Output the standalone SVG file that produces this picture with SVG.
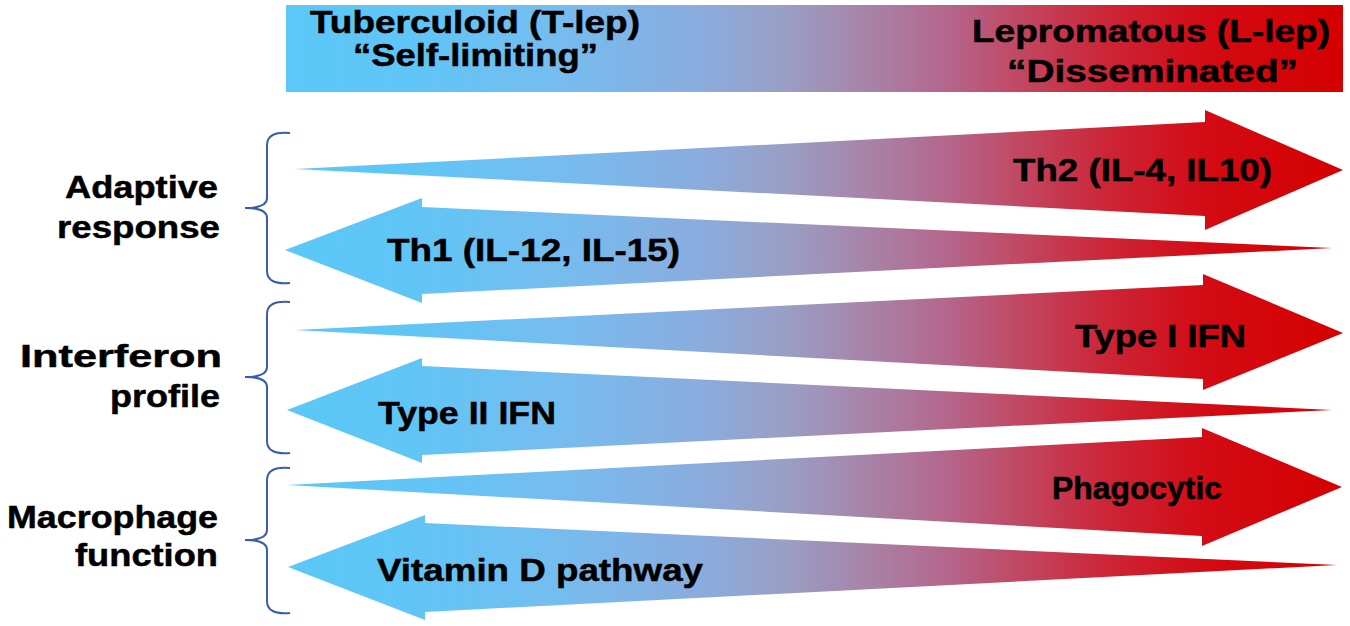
<svg xmlns="http://www.w3.org/2000/svg" width="1350" height="626" viewBox="0 0 1350 626">
<style>
.t{font-family:"Liberation Sans",Arial,Helvetica,sans-serif;font-weight:bold;font-size:32px;fill:#000;stroke:#000;stroke-width:0.5}
.br{fill:none;stroke:#3b5ca8;stroke-width:2}
.g{fill:url(#grad)}
</style>
<defs>
<linearGradient id="grad" gradientUnits="userSpaceOnUse" x1="286" y1="0" x2="1343" y2="0">
<stop offset="0" stop-color="#5ac8f8"/>
<stop offset="0.12" stop-color="#60c5f6"/>
<stop offset="0.26" stop-color="#76bcef"/>
<stop offset="0.39" stop-color="#8aacde"/>
<stop offset="0.47" stop-color="#999fc6"/>
<stop offset="0.55" stop-color="#a883a8"/>
<stop offset="0.63" stop-color="#b5648a"/>
<stop offset="0.7" stop-color="#c2455f"/>
<stop offset="0.78" stop-color="#cc2435"/>
<stop offset="0.87" stop-color="#d30b14"/>
<stop offset="1" stop-color="#d40000"/>
</linearGradient>
</defs>
<rect width="1350" height="626" fill="#fff"/>
<g id="banner">
<rect class="g" x="286" y="5" width="1057" height="87"/>
<text class="t" x="310" y="33" textLength="330" lengthAdjust="spacingAndGlyphs">Tuberculoid (T-lep)</text>
<text class="t" x="353" y="66" textLength="245" lengthAdjust="spacingAndGlyphs">“Self-limiting”</text>
<text class="t" x="972" y="42" textLength="358" lengthAdjust="spacingAndGlyphs">Lepromatous (L-lep)</text>
<text class="t" x="1007" y="82" textLength="291" lengthAdjust="spacingAndGlyphs">“Disseminated”</text>
</g>
<g id="adaptive">
<path class="br" d="M290,133 Q267,131 267,145 L267,198 Q267,208 245,208 Q267,208 267,218 L267,271 Q267,285 290,283"/>
<text class="t" x="65" y="198" textLength="153" lengthAdjust="spacingAndGlyphs">Adaptive</text>
<text class="t" x="57" y="238" textLength="163" lengthAdjust="spacingAndGlyphs">response</text>
</g>
<g id="th2">
<path class="g" d="M295,169 L1205,122 L1205,110 L1343,170 L1205,230 L1205,216 Z"/>
<text class="t" x="1013" y="181" textLength="259" lengthAdjust="spacingAndGlyphs">Th2 (IL-4, IL10)</text>
</g>
<g id="th1">
<path class="g" d="M285,250 L422,198 L422,207 L1332,248 L422,294 L422,303 Z"/>
<text class="t" x="387" y="261" textLength="293" lengthAdjust="spacingAndGlyphs">Th1 (IL-12, IL-15)</text>
</g>
<g id="interferon">
<path class="br" d="M290,302 Q267,300 267,314 L267,367 Q267,377 245,377 Q267,377 267,387 L267,441 Q267,455 290,453"/>
<text class="t" x="20" y="367" textLength="202" lengthAdjust="spacingAndGlyphs">Interferon</text>
<text class="t" x="110" y="407" textLength="110" lengthAdjust="spacingAndGlyphs">profile</text>
</g>
<g id="type1">
<path class="g" d="M295,330 L1203,285 L1203,274 L1343,333 L1203,390 L1203,379 Z"/>
<text class="t" x="1075" y="347" textLength="171" lengthAdjust="spacingAndGlyphs">Type I IFN</text>
</g>
<g id="type2">
<path class="g" d="M287,410 L422,358 L422,366 L1332,410 L422,455 L422,463 Z"/>
<text class="t" x="378" y="424" textLength="178" lengthAdjust="spacingAndGlyphs">Type II IFN</text>
</g>
<g id="macrophage">
<path class="br" d="M290,468 Q267,466 267,480 L267,530 Q267,540 245,540 Q267,540 267,550 L267,601 Q267,615 290,613"/>
<text class="t" x="7" y="528" textLength="211" lengthAdjust="spacingAndGlyphs">Macrophage</text>
<text class="t" x="75" y="566" textLength="143" lengthAdjust="spacingAndGlyphs">function</text>
</g>
<g id="phago">
<path class="g" d="M287,485 L1202,437 L1202,428 L1342,487 L1202,546 L1202,536 Z"/>
<text class="t" x="1052" y="499" textLength="170" lengthAdjust="spacingAndGlyphs">Phagocytic</text>
</g>
<g id="vitd">
<path class="g" d="M288,567 L425,515 L425,523 L1337,565 L425,612 L425,620 Z"/>
<text class="t" x="377" y="581" textLength="326" lengthAdjust="spacingAndGlyphs">Vitamin D pathway</text>
</g>
</svg>
